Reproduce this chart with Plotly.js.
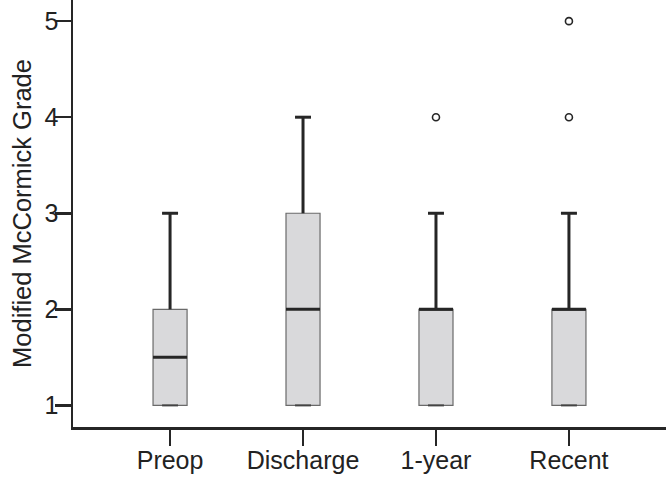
<!DOCTYPE html>
<html>
<head>
<meta charset="utf-8">
<script src="https://cdn.plot.ly/plotly-3.0.1.min.js"></script>
<style>html,body{margin:0;padding:0;background:#fff;}#chart{width:666px;height:500px;}</style>
</head>
<body>
<div id="chart"></div>
<script>
// ---- data ----
const categories = ['Preop', 'Discharge', '1-year', 'Recent'];
const q1         = [1, 1, 1, 1];
const median     = [1.5, 2, 2, 2];
const q3         = [2, 3, 2, 2];
const lowerfence = [1, 1, 1, 1];
const upperfence = [3, 4, 3, 3];
const outliers   = [[], [], [4], [4, 5]];
const yTicks     = [1, 2, 3, 4, 5];

// ---- styling constants ----
const idx = categories.map((_, i) => i);
const boxW = 0.256;
const capHalf = 0.06;
const dark = '#262626';

const wx = [], wy = [], cx = [], cy = [], lcx = [], lcy = [], mx = [], my = [];
idx.forEach(i => {
  wx.push(i, i, null); wy.push(q3[i], upperfence[i], null);
  cx.push(i - capHalf, i + capHalf, null); cy.push(upperfence[i], upperfence[i], null);
  lcx.push(i - capHalf, i + capHalf, null); lcy.push(lowerfence[i], lowerfence[i], null);
  mx.push(i - boxW / 2, i + boxW / 2, null); my.push(median[i], median[i], null);
});
const ox = [], oy = [];
outliers.forEach((arr, i) => arr.forEach(v => { ox.push(i); oy.push(v); }));

const traces = [
  {
    type: 'box', x: idx, q1: q1, median: median, q3: q3,
    lowerfence: lowerfence, upperfence: upperfence,
    width: boxW, whiskerwidth: 0.47, boxpoints: false,
    fillcolor: '#d9d9db', line: {color: '#6a6a6a', width: 1.2},
    hoverinfo: 'skip', showlegend: false
  },
  {type: 'scatter', mode: 'lines', x: wx, y: wy, line: {color: dark, width: 3}, hoverinfo: 'skip', showlegend: false},
  {type: 'scatter', mode: 'lines', x: cx, y: cy, line: {color: dark, width: 3}, hoverinfo: 'skip', showlegend: false},
  {type: 'scatter', mode: 'lines', x: lcx, y: lcy, line: {color: '#444', width: 2}, hoverinfo: 'skip', showlegend: false},
  {type: 'scatter', mode: 'lines', x: mx, y: my, line: {color: dark, width: 3}, hoverinfo: 'skip', showlegend: false},
  {type: 'scatter', mode: 'markers', x: ox, y: oy,
   marker: {symbol: 'circle-open', size: 7, color: dark, line: {width: 1.6, color: dark}},
   hoverinfo: 'skip', showlegend: false}
];

const layout = {
  width: 666, height: 500,
  margin: {l: 73, r: 0, t: 0, b: 73},
  paper_bgcolor: '#fff', plot_bgcolor: '#fff',
  font: {family: '"Liberation Sans", Arial, sans-serif', color: '#222'},
  showlegend: false,
  xaxis: {
    range: [-0.73, 3.73], tickvals: idx, ticktext: categories,
    showgrid: false, zeroline: false,
    showline: true, linecolor: dark, linewidth: 2.5,
    ticks: 'outside', ticklen: 16, tickwidth: 2.5, tickcolor: dark,
    ticklabelstandoff: -7,
    tickfont: {size: 25, color: '#222'}
  },
  yaxis: {
    range: [0.775, 5.22], tickvals: yTicks,
    showgrid: false, zeroline: false,
    showline: true, linecolor: dark, linewidth: 2.5,
    ticks: 'outside', ticklen: 16, tickwidth: 2.5, tickcolor: dark,
    ticklabelstandoff: -9,
    tickfont: {size: 25, color: '#222'},
    title: {text: 'Modified McCormick Grade', font: {size: 25.5, color: '#222'}, standoff: 6}
  }
};

Plotly.newPlot('chart', traces, layout, {displayModeBar: false, staticPlot: true});
</script>
</body>
</html>
